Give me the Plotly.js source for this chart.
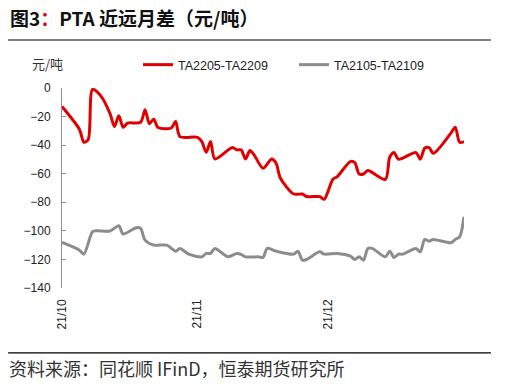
<!DOCTYPE html>
<html>
<head>
<meta charset="utf-8">
<script src="https://cdn.plot.ly/plotly-3.0.1.min.js"></script>
<style>
  html, body { margin: 0; padding: 0; background: #fff; }
  #chart { width: 511px; height: 387px; }
</style>
</head>
<body>
<div id="chart"></div>
<script>
// ---- Data ----
const redName = 'TA2205-TA2209';
const redDates = [
  '2021-10-01','2021-10-05','2021-10-06','2021-10-07','2021-10-08','2021-10-10',
  '2021-10-12','2021-10-13','2021-10-14','2021-10-15','2021-10-16','2021-10-19',
  '2021-10-20','2021-10-21','2021-10-22','2021-10-23','2021-10-26','2021-10-27',
  '2021-10-28','2021-11-01','2021-11-02','2021-11-03','2021-11-04','2021-11-05',
  '2021-11-09','2021-11-10','2021-11-11','2021-11-12','2021-11-13','2021-11-14',
  '2021-11-16','2021-11-18','2021-11-19','2021-11-20','2021-11-23','2021-11-25',
  '2021-11-26','2021-11-29','2021-11-30','2021-12-02','2021-12-03','2021-12-06',
  '2021-12-07','2021-12-08','2021-12-09','2021-12-10','2021-12-14','2021-12-15',
  '2021-12-16','2021-12-17','2021-12-21','2021-12-22','2021-12-23','2021-12-24',
  '2021-12-25','2021-12-29','2021-12-30','2021-12-31','2022-01-01'
];
const redValues = [
  -13, -29, -38, -36, -1, -6,
  -18, -27, -19.5, -27.5, -24.6, -24,
  -15.3, -25, -21.8, -27.7, -28, -23.5,
  -34, -34.5, -37.5, -45, -37.5, -49.7,
  -41.7, -43.3, -43.3, -49.7, -43.8, -47,
  -56.2, -49.7, -52.7, -63.2, -74.2, -74.2,
  -76, -76, -77.9, -63.9, -62, -51.5,
  -52.2, -60.2, -60.2, -57.8, -64, -48.5,
  -45.2, -49.9, -45.2, -49.9, -42.2, -41.7,
  -45.7, -31.6, -27.4, -38, -37.5
];

const grayName = 'TA2105-TA2109';
const grayDates = [
  '2021-10-01','2021-10-05','2021-10-06','2021-10-08','2021-10-09','2021-10-12',
  '2021-10-14','2021-10-15','2021-10-18','2021-10-19','2021-10-20','2021-10-22',
  '2021-10-25','2021-10-27','2021-10-28','2021-10-30','2021-11-02','2021-11-03',
  '2021-11-04','2021-11-05','2021-11-08','2021-11-10','2021-11-11','2021-11-12',
  '2021-11-15','2021-11-16','2021-11-17','2021-11-19','2021-11-23','2021-11-24',
  '2021-11-25','2021-11-26','2021-11-29','2021-11-30','2021-12-03','2021-12-06',
  '2021-12-07','2021-12-08','2021-12-09','2021-12-10','2021-12-11','2021-12-14',
  '2021-12-15','2021-12-16','2021-12-17','2021-12-18','2021-12-21','2021-12-22',
  '2021-12-23','2021-12-24','2021-12-25','2021-12-29','2021-12-30','2021-12-31',
  '2022-01-01'
];
const grayValues = [
  -108.1, -113.5, -116.3, -100.6, -99.9, -100.1,
  -96.4, -102.2, -97.8, -98.3, -106.5, -110,
  -110, -114.2, -112.3, -116.3, -118.2, -115.8,
  -115.8, -112.3, -118.2, -115.8, -116.5, -118.2,
  -118.2, -118.6, -112.3, -114.2, -116.3, -114.2,
  -120.5, -120, -114.7, -116.3, -115.8, -117.7,
  -120, -118.2, -120.5, -112.3, -112.3, -118.2,
  -114.2, -118.6, -116.3, -116.3, -112.3, -114.7,
  -106, -107.2, -106, -108.3, -106, -104.2,
  -90.1
];

const xTickVals = ['2021-10-01', '2021-11-01', '2021-12-01'];
const xTickText = ['21/10', '21/11', '21/12'];
const xTopTickVals = ['2021-10-01', '2021-11-01', '2021-12-01', '2022-01-01'];
const xRange = ['2021-10-01', '2022-01-01'];
const yRange = [-140, 0];

const titleText = '<b>图3<span style="color:#e00000">：</span>PTA 近远月差（元/吨）</b>';
const unitText = '元/吨';
const sourceText = '资料来源：同花顺 IFinD，恒泰期货研究所';

// ---- Plot ----
const latin = 'Arial, "Liberation Sans", sans-serif';
const cjk = '"Noto Sans CJK SC", sans-serif';

const traces = [
  {
    x: redDates, y: redValues, name: redName, type: 'scatter', mode: 'lines',
    line: { color: '#e00000', width: 3, shape: 'spline', smoothing: 0.8 },
    xaxis: 'x', yaxis: 'y'
  },
  {
    x: grayDates, y: grayValues, name: grayName, type: 'scatter', mode: 'lines',
    line: { color: '#8c8c8c', width: 3, shape: 'spline', smoothing: 0.8 },
    xaxis: 'x', yaxis: 'y'
  }
];

const axisGray = '#8f8f8f';
const layout = {
  width: 511, height: 387,
  margin: { l: 62, r: 47, t: 88, b: 99, pad: 0 },
  paper_bgcolor: '#ffffff', plot_bgcolor: '#ffffff',
  font: { family: latin, size: 12, color: '#333' },
  showlegend: true,
  legend: {
    orientation: 'h', xref: 'container', x: 0.27, xanchor: 'left',
    yref: 'container', y: 0.832, yanchor: 'middle',
    font: { family: latin, size: 12.5, color: '#222' },
    bgcolor: 'rgba(0,0,0,0)', itemwidth: 30, entrywidth: 111, traceorder: 'normal'
  },
  xaxis: {
    type: 'date', range: xRange, tickvals: xTickVals, ticktext: xTickText,
    tickangle: -90, showline: false, showgrid: false, zeroline: false,
    ticks: '', ticklabelstandoff: 8,
    tickfont: { family: latin, size: 12, color: '#222' }
  },
  xaxis2: {
    type: 'date', range: xRange, overlaying: 'x', side: 'top', anchor: 'y',
    tickvals: xTopTickVals, showticklabels: false, showgrid: false, zeroline: false,
    showline: true, linecolor: axisGray, linewidth: 1,
    ticks: 'outside', ticklen: 4, tickcolor: axisGray, tickwidth: 1
  },
  yaxis: {
    range: yRange, dtick: 20, tick0: 0, showgrid: false, zeroline: false,
    showline: true, linecolor: axisGray, linewidth: 1,
    ticks: 'inside', ticklen: 4, tickcolor: axisGray, tickwidth: 1,
    ticklabelstandoff: 8,
    tickfont: { family: latin, size: 12, color: '#222' }
  },
  annotations: [
    {
      text: titleText, xref: 'paper', yref: 'paper',
      x: -0.134, y: 1.355, xanchor: 'left', yanchor: 'middle', showarrow: false,
      font: { family: cjk, size: 19, color: '#111' }
    },
    {
      text: unitText, xref: 'paper', yref: 'paper',
      x: -0.08, y: 1.12, xanchor: 'left', yanchor: 'middle', showarrow: false,
      font: { family: cjk, size: 13, color: '#333' }
    },
    {
      text: sourceText, xref: 'paper', yref: 'paper',
      x: -0.137, y: -0.40, xanchor: 'left', yanchor: 'middle', showarrow: false,
      font: { family: cjk, size: 18, color: '#333' }
    }
  ],
  shapes: [
    {
      type: 'line', xref: 'paper', yref: 'paper',
      x0: -0.134, x1: 1.067, y0: 1.24, y1: 1.24,
      line: { color: '#000', width: 1.2 }
    },
    {
      type: 'line', xref: 'paper', yref: 'paper',
      x0: -0.134, x1: 1.067, y0: -0.324, y1: -0.324,
      line: { color: '#000', width: 1.2 }
    }
  ]
};

Plotly.newPlot('chart', traces, layout, { displayModeBar: false, staticPlot: true });
</script>
</body>
</html>
